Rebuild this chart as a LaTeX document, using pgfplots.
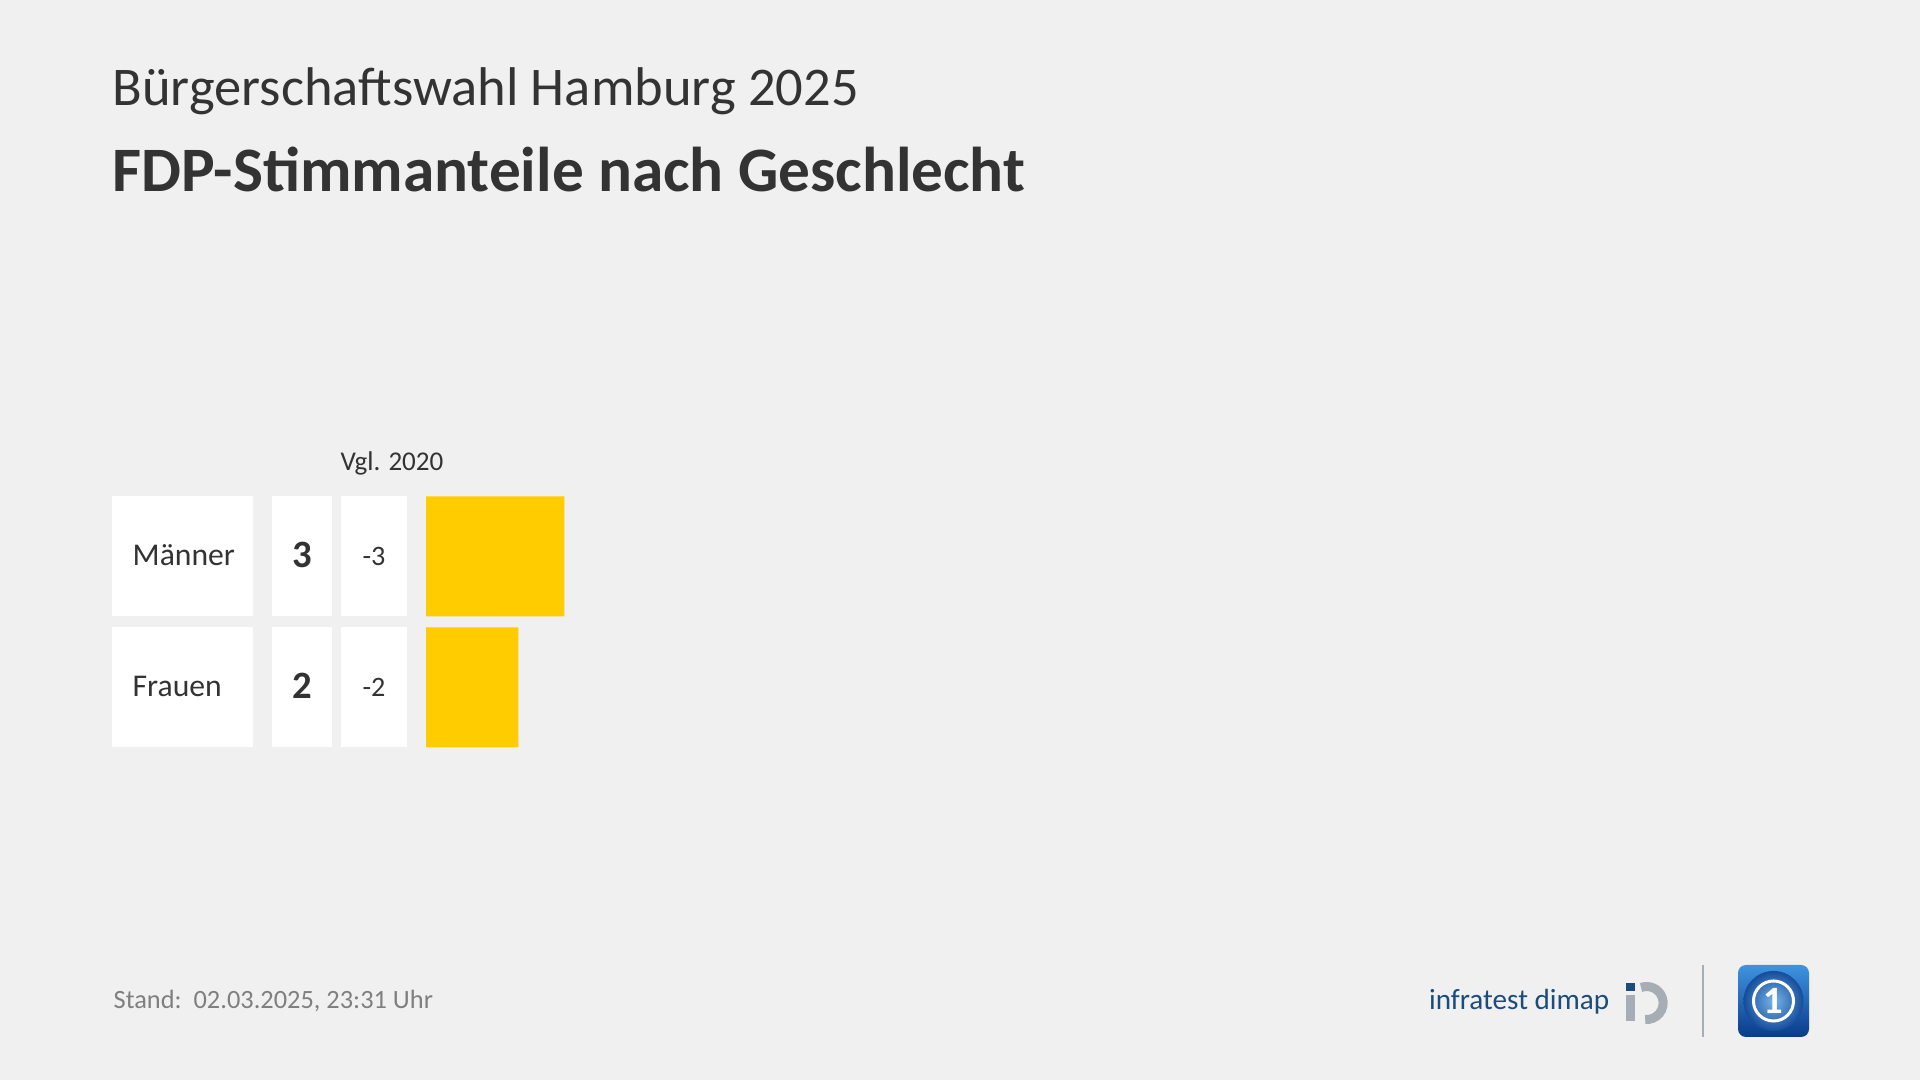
\documentclass[border=0pt]{standalone}
\usepackage{pgfplots}
\pgfplotsset{compat=1.18}
\usepackage{fontspec}
\setmainfont{Carlito}
\definecolor{bg}{HTML}{F0F0F0}
\definecolor{txt}{HTML}{333333}
\definecolor{foot}{HTML}{7F7F7F}
\definecolor{fdp}{HTML}{FFCC00}
\definecolor{idblue}{HTML}{1B4C7C}
\definecolor{idgray}{HTML}{A6ADB4}
\definecolor{tsdark}{HTML}{0A3A8A}
\definecolor{tslight}{HTML}{3E94E0}
\begin{document}
\begin{tikzpicture}
\begin{scope}[x=0.01cm,y=-0.01cm]
% background
\fill[bg] (0,0) rectangle (1920,1080);
% titles
\node[anchor=base west,inner sep=0,text=txt,font=\fontsize{15.5}{18}\selectfont] at (112,106) {Bürgerschaftswahl Hamburg 2025};
\node[anchor=base west,inner sep=0,text=txt,font=\fontsize{18}{22}\selectfont\bfseries] at (112,192) {FDP-Stimmanteile nach Geschlecht};
% header
\node[anchor=base,inner sep=0,text=txt,font=\fontsize{7.7}{9}\selectfont] at (392,471) {Vgl. 2020};
% cells
\fill[white] (112,496) rectangle (253,616);
\fill[white] (272,496) rectangle (332,616);
\fill[white] (341,496) rectangle (407,616);
\fill[white] (112,627) rectangle (253,747);
\fill[white] (272,627) rectangle (332,747);
\fill[white] (341,627) rectangle (407,747);
\node[anchor=base west,inner sep=0,text=txt,font=\fontsize{9}{11}\selectfont] at (132,566) {Männer};
\node[anchor=base west,inner sep=0,text=txt,font=\fontsize{9}{11}\selectfont] at (132,697) {Frauen};
\node[anchor=base,inner sep=0,text=txt,font=\fontsize{11}{13}\selectfont\bfseries] at (302,568) {3};
\node[anchor=base,inner sep=0,text=txt,font=\fontsize{11}{13}\selectfont\bfseries] at (302,699) {2};
\node[anchor=base,inner sep=0,text=txt,font=\fontsize{8}{10}\selectfont] at (374,566) {-3};
\node[anchor=base,inner sep=0,text=txt,font=\fontsize{8}{10}\selectfont] at (374,697) {-2};
% footer
\node[anchor=base west,inner sep=0,text=foot,font=\fontsize{7.5}{9}\selectfont] at (113,1009) {Stand:\ \ 02.03.2025, 23:31 Uhr};
% infratest dimap logo
\node[anchor=base east,inner sep=0,text=idblue,font=\fontsize{8.3}{10}\selectfont] at (1610,1010) {infratest dimap};
\fill[idgray] (1626,995) rectangle (1635,1021);
\draw[idgray,line width=0.09cm] (1641,987.5) arc[start angle=110,end angle=-95,radius=0.165cm];
\fill[idblue] (1626,983) rectangle (1635,991);
% separator
\draw[idgray,line width=0.02cm] (1703,965) -- (1703,1037);
% tagesschau logo
\shade[top color=tslight,bottom color=tsdark,rounded corners=0.08cm] (1738,965) rectangle (1809,1037);
\shade[inner color=tslight!70!white,outer color=tsdark!80!tslight] (1773.5,1001) circle (0.3cm);
\draw[white,line width=0.03cm] (1773.5,1001) circle (0.2cm);
\node[text=white,font=\fontsize{11}{12}\selectfont\bfseries,inner sep=0] at (1773.5,1001) {1};
\end{scope}
% bars
\begin{axis}[at={(4.26cm,-4.905cm)},anchor=north west,
  xbar, x=0.46cm, y=1.31cm, y dir=reverse,
  xmin=0, xmax=3, ymin=-0.5, ymax=1.5,
  hide axis, clip=false,
  bar width=1.2cm, bar shift=0pt]
\addplot[fill=fdp, draw=none] coordinates {(3,0) (2,1)};
\end{axis}
\end{tikzpicture}
\end{document}
